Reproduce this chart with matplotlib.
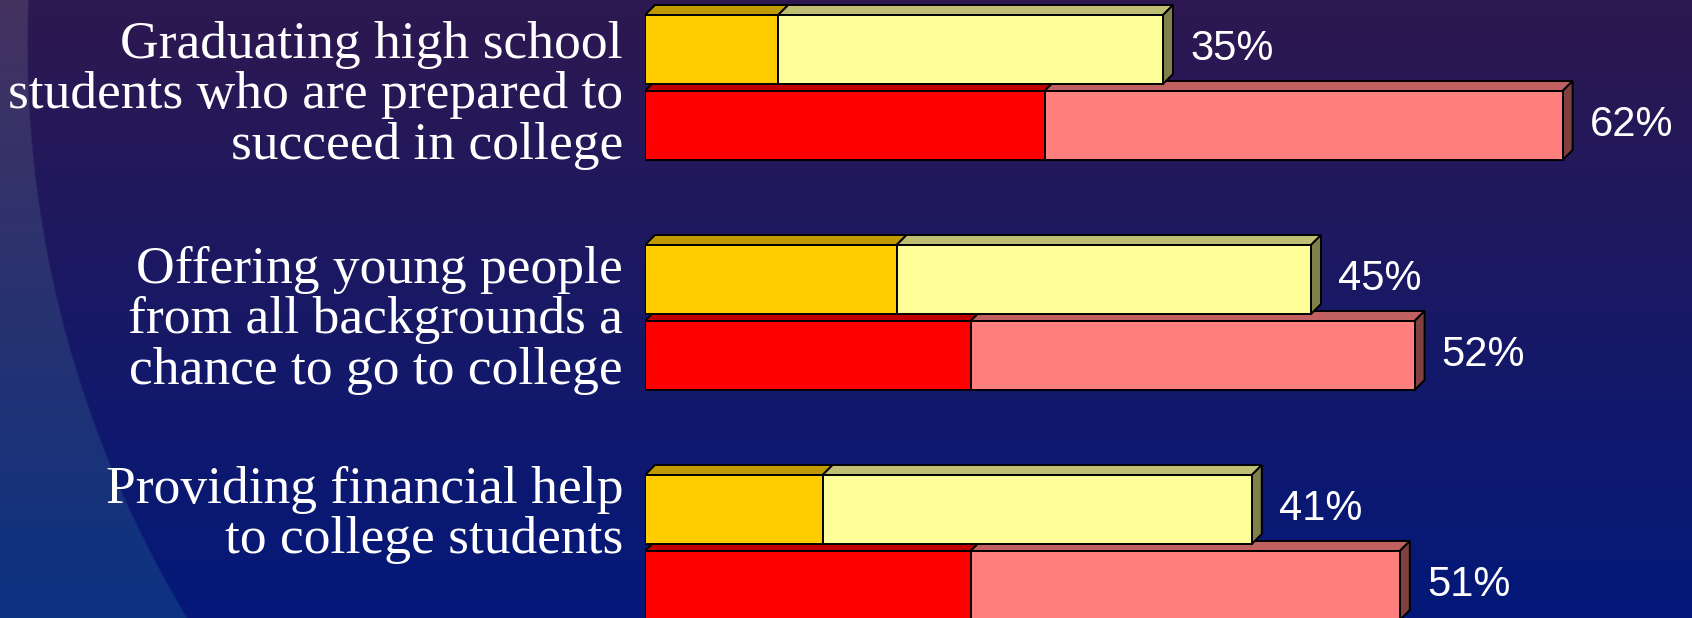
import numpy as np
import matplotlib
matplotlib.use("Agg")
import matplotlib.pyplot as plt
from matplotlib.patches import Polygon

# ---------------- data ----------------
categories = [
    "Graduating high school\nstudents who are prepared to\nsucceed in college",
    "Offering young people\nfrom all backgrounds a\nchance to go to college",
    "Providing financial help\nto college students",
]
yellow_dark = [9, 17, 12]      # darker (left) part of the yellow bar
yellow_total = [35, 45, 41]    # full yellow bar
red_dark = [27, 22, 22]        # darker (left) part of the red bar
red_total = [62, 52, 51]       # full red bar
yellow_labels = ["35%", "45%", "41%"]
red_labels = ["62%", "52%", "51%"]

# ---------------- layout ----------------
W, H, DPI = 1692, 618, 100
X0_PX = 645          # pixel position of value 0
PX_PER_PCT = 14.8
GROUP_PX = 230
CENTER0_PX = 87.5
BAR_PX = 69
OFF_PX = 38
DEPTH_PX = 10
LABEL_X_PX = 623
LABEL_BASELINES_PX = [58, 283, 503]
LINE_STEP_PX = 50.3

fig = plt.figure(figsize=(W / DPI, H / DPI), dpi=DPI)

# background gradient with lighter arc on the left
bg = fig.add_axes([0, 0, 1, 1], zorder=0)
yy, xx = np.mgrid[0:H, 0:W]
t = (yy / (H - 1))[..., None]
top = np.array([46, 24, 80]) / 255
bot = np.array([3, 24, 122]) / 255
img = top * (1 - t) + bot * t
ltop = np.array([68, 50, 96]) / 255
lbot = np.array([12, 50, 130]) / 255
img2 = ltop * (1 - t) + lbot * t
cx, cy, R = 1136.5, 44.2, 1109.4
d = np.hypot(xx - cx, yy - cy) - R
w = np.clip(d / 2.0 + 0.5, 0, 1)[..., None]
img = img * (1 - w) + img2 * w
bg.imshow(img, aspect="auto", interpolation="bilinear")
bg.axis("off")

# main axes
ax = fig.add_axes([X0_PX / W, 0, 1 - X0_PX / W, 1], zorder=1)
ax.patch.set_alpha(0)
ax.axis("off")
ax.set_xlim(0, (W - X0_PX) / PX_PER_PCT)
ax.set_ylim((H - CENTER0_PX) / GROUP_PX, -CENTER0_PX / GROUP_PX)

bar_h = BAR_PX / GROUP_PX
off = OFF_PX / GROUP_PX
dx = DEPTH_PX / PX_PER_PCT
dy = DEPTH_PX / GROUP_PX
LW = 1.4


def bar3d(y, dark, total, c_dark, c_dark_top, c_light, c_light_top, c_side, z):
    yt = y - bar_h / 2
    yb = y + bar_h / 2
    segs = [(0, dark, c_dark, c_dark_top), (dark, total, c_light, c_light_top)]
    for x0, x1, cf, ct in segs:
        ax.add_patch(Polygon([(x0, yt), (x0 + dx, yt - dy), (x1 + dx, yt - dy), (x1, yt)],
                             closed=True, facecolor=ct, edgecolor="black", lw=LW, zorder=z))
    ax.add_patch(Polygon([(total, yt), (total + dx, yt - dy), (total + dx, yb - dy), (total, yb)],
                         closed=True, facecolor=c_side, edgecolor="black", lw=LW, zorder=z))
    ax.barh(y, dark, left=0, height=bar_h, color=c_dark, edgecolor="black", lw=LW, zorder=z + 0.1)
    ax.barh(y, total - dark, left=dark, height=bar_h, color=c_light, edgecolor="black", lw=LW,
            zorder=z + 0.1)


for i in range(len(categories)):
    yc = float(i)
    # red bar (drawn first, lower)
    bar3d(yc + off, red_dark[i], red_total[i], "#FF0000", "#C00000", "#FF7F7F", "#C06060",
          "#804040", 2)
    # yellow bar (upper)
    bar3d(yc - off, yellow_dark[i], yellow_total[i], "#FFCC00", "#C09A00", "#FFFF99", "#BFBF73",
          "#80804D", 4)
    gap = 17 / PX_PER_PCT
    ax.text(yellow_total[i] + dx + gap, yc - off, yellow_labels[i], color="white", fontsize=30,
            family="Liberation Sans", va="center", ha="left", zorder=6)
    ax.text(red_total[i] + dx + gap, yc + off, red_labels[i], color="white", fontsize=30,
            family="Liberation Sans", va="center", ha="left", zorder=6)

# category labels
for i, cat in enumerate(categories):
    for j, line in enumerate(cat.split("\n")):
        ypx = LABEL_BASELINES_PX[i] + j * LINE_STEP_PX
        fig.text(LABEL_X_PX / W, 1 - ypx / H, line, color="white", fontsize=38.5,
                 family="Liberation Serif", ha="right", va="baseline", zorder=5)

fig.savefig("out.png", dpi=DPI)
